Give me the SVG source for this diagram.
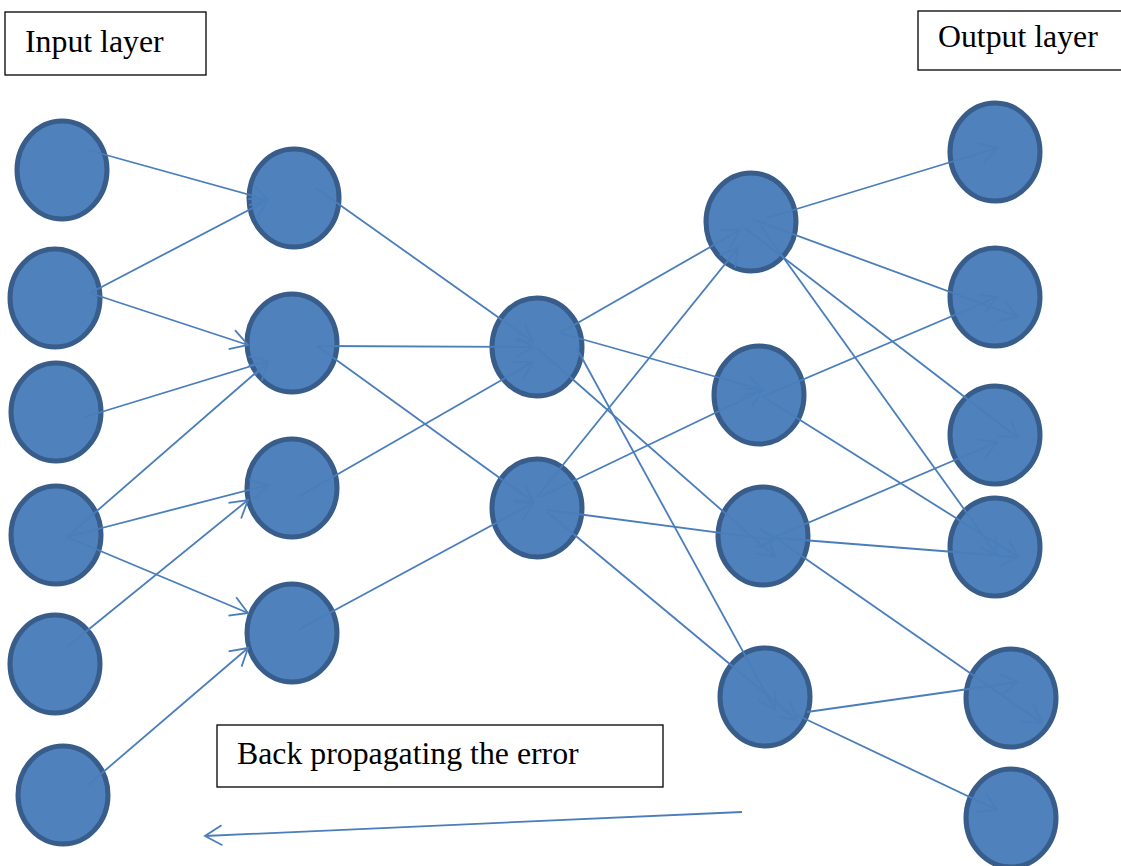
<svg xmlns="http://www.w3.org/2000/svg" width="1121" height="866" viewBox="0 0 1121 866">
  <style>
    .node { fill: #4F81BD; stroke: #385D8A; stroke-width: 5; }
    .edge { stroke: #4A7EBB; stroke-width: 1.8; fill: none; marker-end: url(#arr); }
    .box { fill: #FFFFFF; stroke: #000000; stroke-width: 1.3; }
    .label { font-family: "Liberation Serif", "Times New Roman", serif; font-size: 31.8px; fill: #000000; }
  </style>
  <defs>
    <marker id="arr" viewBox="-20 -12 22 24" refX="0" refY="0" markerWidth="22" markerHeight="24" markerUnits="userSpaceOnUse" orient="auto" overflow="visible">
      <path d="M-17,-10 L0,0 L-17,10" fill="none" stroke="#4A7EBB" stroke-width="1.8"/>
    </marker>
  </defs>

  <rect width="1121" height="866" fill="#FFFFFF"/>

  <!-- captions -->
  <g id="input-label">
    <rect class="box" x="5" y="12" width="201" height="63"/>
    <text class="label" x="25" y="52">Input layer</text>
  </g>
  <g id="output-label">
    <rect class="box" x="918" y="11" width="206" height="59"/>
    <text class="label" x="938" y="47">Output layer</text>
  </g>
  <g id="backprop-label">
    <rect class="box" x="217" y="725" width="446" height="62"/>
    <text class="label" x="237" y="764">Back propagating the error</text>
  </g>

  <!-- input layer -->
  <g id="i1"><ellipse class="node" cx="62" cy="170" rx="45" ry="49"/></g>
  <g id="i2"><ellipse class="node" cx="55" cy="298" rx="45" ry="49"/></g>
  <g id="i3"><ellipse class="node" cx="56" cy="412" rx="45" ry="49"/></g>
  <g id="i4"><ellipse class="node" cx="56" cy="535" rx="45" ry="49"/></g>
  <g id="i5"><ellipse class="node" cx="55" cy="664" rx="45" ry="49"/></g>
  <g id="i6"><ellipse class="node" cx="63" cy="795" rx="45" ry="49"/></g>

  <!-- first hidden layer -->
  <g id="h1"><ellipse class="node" cx="294" cy="198" rx="45" ry="49"/></g>
  <g id="h2"><ellipse class="node" cx="292" cy="343" rx="45" ry="49"/></g>
  <g id="h3"><ellipse class="node" cx="292" cy="488" rx="45" ry="49"/></g>
  <g id="h4"><ellipse class="node" cx="292" cy="633" rx="45" ry="49"/></g>

  <!-- second hidden layer -->
  <g id="m1"><ellipse class="node" cx="537" cy="347" rx="45" ry="49"/></g>
  <g id="m2"><ellipse class="node" cx="537" cy="508" rx="45" ry="49"/></g>

  <!-- third hidden layer -->
  <g id="a1"><ellipse class="node" cx="751" cy="222" rx="45" ry="49"/></g>
  <g id="a2"><ellipse class="node" cx="759" cy="395" rx="45" ry="49"/></g>
  <g id="a3"><ellipse class="node" cx="763" cy="536" rx="45" ry="49"/></g>
  <g id="a4"><ellipse class="node" cx="765" cy="697" rx="45" ry="49"/></g>

  <!-- output layer -->
  <g id="o1"><ellipse class="node" cx="995" cy="152" rx="45" ry="49"/></g>
  <g id="o2"><ellipse class="node" cx="995" cy="297" rx="45" ry="49"/></g>
  <g id="o3"><ellipse class="node" cx="995" cy="435" rx="45" ry="49"/></g>
  <g id="o4"><ellipse class="node" cx="995" cy="547" rx="45" ry="49"/></g>
  <g id="o5"><ellipse class="node" cx="1011" cy="698" rx="45" ry="49"/></g>
  <g id="o6"><ellipse class="node" cx="1011" cy="818" rx="45" ry="49"/></g>

  <!-- weighted connections -->
  <g id="connectors">
    <line class="edge" x1="88" y1="150" x2="268" y2="200"/>
    <line class="edge" x1="90" y1="293" x2="268" y2="200"/>
    <line class="edge" x1="90" y1="293" x2="248" y2="345"/>
    <line class="edge" x1="85" y1="417" x2="268" y2="361"/>
    <line class="edge" x1="67" y1="537" x2="268" y2="362"/>
    <line class="edge" x1="67" y1="537" x2="268" y2="485"/>
    <line class="edge" x1="67" y1="537" x2="248" y2="613"/>
    <line class="edge" x1="67" y1="647" x2="248" y2="500"/>
    <line class="edge" x1="88" y1="785" x2="248" y2="648"/>

    <line class="edge" x1="316" y1="188" x2="533" y2="342"/>
    <line class="edge" x1="317" y1="346" x2="533" y2="347"/>
    <line class="edge" x1="317" y1="346" x2="533" y2="502"/>
    <line class="edge" x1="298" y1="497" x2="533" y2="362"/>
    <line class="edge" x1="298" y1="630" x2="533" y2="503"/>

    <line class="edge" x1="560" y1="333" x2="740" y2="230"/>
    <line class="edge" x1="560" y1="333" x2="763" y2="390"/>
    <line class="edge" x1="537" y1="348" x2="775" y2="557"/>
    <line class="edge" x1="576" y1="347" x2="775" y2="710"/>
    <line class="edge" x1="537" y1="497" x2="738" y2="248"/>
    <line class="edge" x1="540" y1="497" x2="763" y2="390"/>
    <line class="edge" x1="547" y1="510" x2="775" y2="540"/>
    <line class="edge" x1="547" y1="512" x2="797" y2="720"/>

    <line class="edge" x1="767" y1="218" x2="997" y2="148"/>
    <line class="edge" x1="752" y1="219" x2="1018" y2="317"/>
    <line class="edge" x1="745" y1="228" x2="1018" y2="438"/>
    <line class="edge" x1="760" y1="225" x2="997" y2="555"/>
    <line class="edge" x1="762" y1="397" x2="997" y2="297"/>
    <line class="edge" x1="765" y1="398" x2="1018" y2="557"/>
    <line class="edge" x1="775" y1="537" x2="997" y2="442"/>
    <line class="edge" x1="777" y1="538" x2="1018" y2="557"/>
    <line class="edge" x1="770" y1="534" x2="1042" y2="723"/>
    <line class="edge" x1="807" y1="712" x2="1018" y2="682"/>
    <line class="edge" x1="797" y1="715" x2="997" y2="810"/>

    <line class="edge" x1="742" y1="812" x2="205" y2="836"/>
  </g>
</svg>
